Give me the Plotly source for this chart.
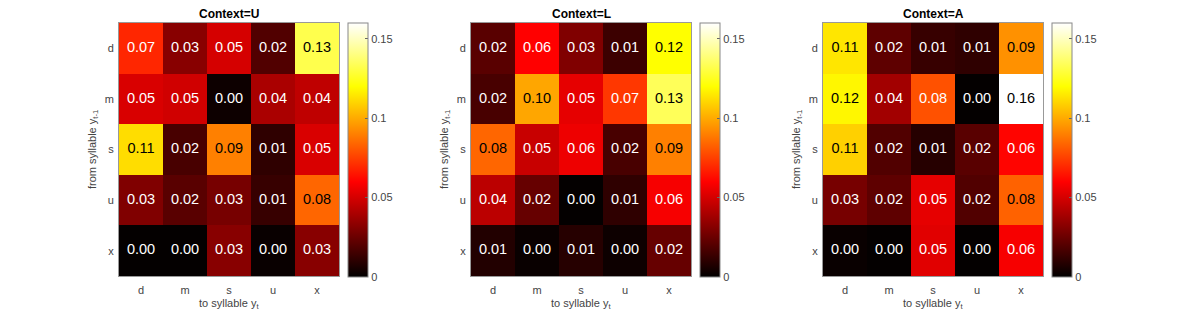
import plotly.graph_objects as go

syllables = ["d", "m", "s", "u", "x"]
contexts = ["U", "L", "A"]

# rows: from syllable y_{t-1} (d, m, s, u, x); columns: to syllable y_t
trans_U = [
    [0.069, 0.032, 0.050, 0.019, 0.132],
    [0.051, 0.049, 0.003, 0.040, 0.045],
    [0.112, 0.017, 0.090, 0.011, 0.051],
    [0.030, 0.021, 0.028, 0.013, 0.084],
    [0.001, 0.001, 0.032, 0.002, 0.032],
]
trans_L = [
    [0.021, 0.060, 0.030, 0.014, 0.120],
    [0.017, 0.099, 0.054, 0.073, 0.134],
    [0.084, 0.047, 0.056, 0.017, 0.090],
    [0.044, 0.024, 0.001, 0.011, 0.058],
    [0.008, 0.002, 0.009, 0.003, 0.024],
]
trans_A = [
    [0.114, 0.022, 0.013, 0.011, 0.094],
    [0.118, 0.038, 0.079, 0.001, 0.160],
    [0.109, 0.019, 0.009, 0.021, 0.061],
    [0.028, 0.022, 0.054, 0.019, 0.083],
    [0.002, 0.001, 0.053, 0.001, 0.058],
]
matrices = [trans_U, trans_L, trans_A]

cbar_ticks = [0, 0.05, 0.1, 0.15]
cbar_ticktext = ["0", "0.05", "0.1", "0.15"]
zmin, zmax = 0.0, 0.16

hot = [
    [0.0, "rgb(0,0,0)"],
    [0.375, "rgb(255,0,0)"],
    [0.75, "rgb(255,255,0)"],
    [1.0, "rgb(255,255,255)"],
]

OFF = 8  # page body margin in the browser
W, H = 1177 - OFF, 314 - OFF
FONT = "Liberation Sans, Arial, Helvetica, sans-serif"
GRAY = "#444444"
heat_left = [119 - OFF, 471 - OFF, 823 - OFF]
heat_w = 220
top, bottom = 23 - OFF, 276 - OFF
cb_left = [348 - OFF, 700 - OFF, 1052 - OFF]


def py(pix):
    return 1 - pix / H


fig = go.Figure()
annotations = []
for i, (ctx, mat) in enumerate(zip(contexts, matrices)):
    xa = "x" if i == 0 else f"x{i+1}"
    ya = "y" if i == 0 else f"y{i+1}"
    fig.add_trace(go.Heatmap(
        z=mat, x=syllables, y=syllables,
        zmin=zmin, zmax=zmax, colorscale=hot,
        xaxis=xa, yaxis=ya, hoverinfo="skip",
        colorbar=dict(
            x=cb_left[i] / W, xanchor="left", xpad=0,
            y=py(277 - OFF), yanchor="bottom", ypad=0,
            len=254 / H, lenmode="fraction",
            thickness=20, thicknessmode="pixels",
            outlinecolor="#888888", outlinewidth=1,
            tickvals=cbar_ticks, ticktext=cbar_ticktext,
            ticks="inside", ticklen=3, tickcolor="#666666",
            tickfont=dict(family=FONT, size=11, color=GRAY),
        ),
    ))
    xs, ys, ts, cs = [], [], [], []
    for r, row_lab in enumerate(syllables):
        for c, col_lab in enumerate(syllables):
            v = mat[r][c]
            xs.append(col_lab)
            ys.append(row_lab)
            ts.append(f"{v:.2f}")
            cs.append("black" if v >= 0.08 else "white")
    fig.add_trace(go.Scatter(
        x=xs, y=ys, text=ts, mode="text", xaxis=xa, yaxis=ya,
        textfont=dict(family=FONT, size=14.5, color=cs),
        hoverinfo="skip", showlegend=False,
    ))
    axx = dict(
        domain=[heat_left[i] / W, (heat_left[i] + heat_w) / W],
        anchor=ya, showgrid=False, zeroline=False,
        showline=True, mirror=True, linecolor="#999999", linewidth=1,
        ticks="outside", ticklen=4, tickcolor="rgba(0,0,0,0)",
        tickfont=dict(family=FONT, size=11, color=GRAY),
        categoryorder="array", categoryarray=syllables,
    )
    axy = dict(
        domain=[py(bottom), py(top)],
        anchor=xa, showgrid=False, zeroline=False,
        showline=True, mirror=True, linecolor="#999999", linewidth=1,
        ticks="outside", ticklen=2, tickcolor="rgba(0,0,0,0)",
        tickfont=dict(family=FONT, size=11, color=GRAY),
        categoryorder="array", categoryarray=syllables[::-1],
    )
    key = "" if i == 0 else str(i + 1)
    fig.update_layout(**{f"xaxis{key}": axx, f"yaxis{key}": axy})
    cx = (heat_left[i] + heat_w / 2) / W
    annotations.append(dict(
        text=f"<b>Context={ctx}</b>", x=cx, y=py(top), xref="paper", yref="paper",
        xanchor="center", yanchor="bottom", showarrow=False,
        font=dict(family=FONT, size=12, color="black"),
    ))
    annotations.append(dict(
        text="to syllable y<sub>t</sub>", x=cx, y=py(304 - OFF), xref="paper", yref="paper",
        xanchor="center", yanchor="middle", showarrow=False,
        font=dict(family=FONT, size=11, color=GRAY),
    ))
    annotations.append(dict(
        text="from syllable y<sub>t-1</sub>", x=(heat_left[i] - 26) / W, y=py(150 - OFF),
        xref="paper", yref="paper", xanchor="center", yanchor="middle",
        showarrow=False, textangle=-90,
        font=dict(family=FONT, size=11, color=GRAY),
    ))

fig.update_layout(
    width=W, height=H, margin=dict(l=0, r=0, t=0, b=0),
    paper_bgcolor="white", plot_bgcolor="white",
    showlegend=False, annotations=annotations,
)
fig.write_html("out.html")
